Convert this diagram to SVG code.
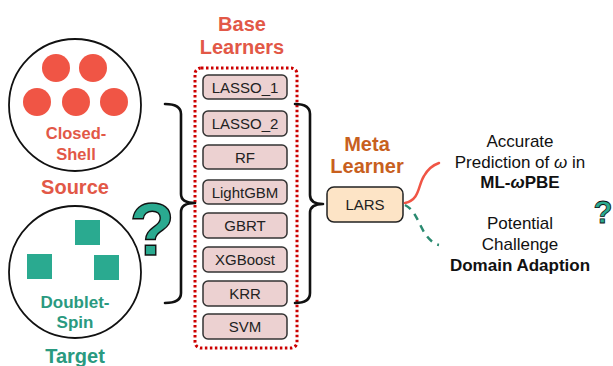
<svg xmlns="http://www.w3.org/2000/svg" width="613" height="366" viewBox="0 0 613 366">
  <style>
    .lbl { font-family: "Liberation Sans", Arial, sans-serif; }
    .b { font-weight: bold; }
    .red { fill: #e25847; }
    .teal { fill: #2a9a80; }
    .learner rect { fill: #ecd1d1; stroke: #333; stroke-width: 1.5; }
    .learner text { font-family: "Liberation Sans", Arial, sans-serif; font-size: 15px; fill: #222; text-anchor: middle; }
    .brace { fill: none; stroke: #111; stroke-width: 2.6; stroke-linecap: round; stroke-linejoin: round; }
    .dot { fill: #f05545; }
    .sq { fill: #2aaa90; }
  </style>
  <rect width="613" height="366" fill="#fff"/>

  <!-- Source domain: closed-shell -->
  <g id="source">
    <circle cx="75" cy="105" r="66" fill="#fff" stroke="#111" stroke-width="1.8"/>
    <circle class="dot" cx="56" cy="68" r="14"/>
    <circle class="dot" cx="93" cy="68" r="14"/>
    <circle class="dot" cx="37" cy="102" r="14"/>
    <circle class="dot" cx="76" cy="102" r="14"/>
    <circle class="dot" cx="114" cy="102" r="14"/>
    <text class="lbl b red" x="76" y="139" font-size="16.5" text-anchor="middle">Closed-</text>
    <text class="lbl b red" x="76" y="160" font-size="16.5" text-anchor="middle">Shell</text>
    <text class="lbl b red" x="75" y="194" font-size="20" text-anchor="middle">Source</text>
  </g>

  <!-- Target domain: doublet-spin -->
  <g id="target">
    <circle cx="75" cy="272" r="66" fill="#fff" stroke="#111" stroke-width="1.8"/>
    <rect class="sq" x="75" y="220" width="25" height="25"/>
    <rect class="sq" x="27" y="254" width="25" height="25"/>
    <rect class="sq" x="94" y="255" width="25" height="25"/>
    <text class="lbl b teal" x="75" y="308" font-size="17" text-anchor="middle">Doublet-</text>
    <text class="lbl b teal" x="75" y="328" font-size="17" text-anchor="middle">Spin</text>
    <text class="lbl b teal" x="75" y="363" font-size="20" text-anchor="middle">Target</text>
  </g>

  <!-- question mark between domains -->
  <g id="question-left">
    <text class="lbl b" x="152" y="255" font-size="74" text-anchor="middle" fill="#2aaa90" stroke="#111" stroke-width="1.4">?</text>
  </g>

  <!-- base learners -->
  <g id="base-learners">
    <text class="lbl b red" x="242" y="31" font-size="20" text-anchor="middle">Base</text>
    <text class="lbl b red" x="242" y="54" font-size="20" text-anchor="middle">Learners</text>
    <rect x="195" y="68" width="102" height="280" rx="6" fill="none" stroke="#cc0000" stroke-width="3" stroke-dasharray="2.5 2.5"/>
    <g class="learner" id="lasso1"><rect x="203" y="75" width="84" height="24" rx="5"/><text x="245" y="93">LASSO_1</text></g>
    <g class="learner" id="lasso2"><rect x="203" y="111" width="84" height="25" rx="5"/><text x="245" y="129">LASSO_2</text></g>
    <g class="learner" id="rf"><rect x="203" y="145" width="84" height="24" rx="5"/><text x="245" y="163">RF</text></g>
    <g class="learner" id="lightgbm"><rect x="203" y="180" width="84" height="24" rx="5"/><text x="245" y="198">LightGBM</text></g>
    <g class="learner" id="gbrt"><rect x="203" y="213" width="84" height="25" rx="5"/><text x="245" y="231">GBRT</text></g>
    <g class="learner" id="xgboost"><rect x="203" y="247" width="84" height="25" rx="5"/><text x="245" y="265">XGBoost</text></g>
    <g class="learner" id="krr"><rect x="203" y="281" width="84" height="25" rx="5"/><text x="245" y="299">KRR</text></g>
    <g class="learner" id="svm"><rect x="203" y="314" width="84" height="25" rx="5"/><text x="245" y="332">SVM</text></g>
  </g>

  <!-- meta learner -->
  <g id="meta-learner">
    <text class="lbl b" x="367" y="151" font-size="20" text-anchor="middle" fill="#c8601e">Meta</text>
    <text class="lbl b" x="367" y="173" font-size="20" text-anchor="middle" fill="#c8601e">Learner</text>
    <rect x="327" y="187" width="76" height="35" rx="7" fill="#fde4c6" stroke="#222" stroke-width="1.5"/>
    <text class="lbl" x="365" y="210" font-size="15" text-anchor="middle" fill="#222">LARS</text>
  </g>

  <!-- outcomes -->
  <g id="outcome-accurate">
    <text class="lbl" x="520" y="147" font-size="17" text-anchor="middle" fill="#111">Accurate</text>
    <text class="lbl" x="520" y="168" font-size="17" text-anchor="middle" fill="#111">Prediction of <tspan font-style="italic">ω</tspan> in</text>
    <text class="lbl b" x="520" y="188" font-size="17" text-anchor="middle" fill="#111">ML-<tspan font-style="italic">ω</tspan>PBE</text>
  </g>
  <g id="outcome-challenge">
    <text class="lbl" x="520" y="229" font-size="17" text-anchor="middle" fill="#111">Potential</text>
    <text class="lbl" x="520" y="250" font-size="17" text-anchor="middle" fill="#111">Challenge</text>
    <text class="lbl b" x="520" y="271" font-size="17" text-anchor="middle" fill="#111">Domain Adaption</text>
  </g>
  <g id="question-right">
    <text class="lbl b" x="603" y="223" font-size="31" text-anchor="middle" fill="#2aaa90" stroke="#111" stroke-width="0.8">?</text>
  </g>

  <!-- connectors -->
  <g id="connectors">
    <path class="brace" d="M165,104 Q181,104 181,114 L181,194 Q181,203 195,203 Q181,203 181,212 L181,293 Q181,303 165,303"/>
    <path class="brace" d="M295,104 Q310,104 310,114 L310,195 Q310,204 323,204 Q310,204 310,213 L310,293 Q310,303 295,303"/>
    <path d="M405,203 C420,200 418,185 424,176 C428,169 433,165 439,163" fill="none" stroke="#f05545" stroke-width="2.5" stroke-linecap="round"/>
    <path d="M405,205 C415,210 418,222 424,232 C429,240 434,244 439,245" fill="none" stroke="#2a8a70" stroke-width="2.5" stroke-dasharray="7 6"/>
  </g>
</svg>
